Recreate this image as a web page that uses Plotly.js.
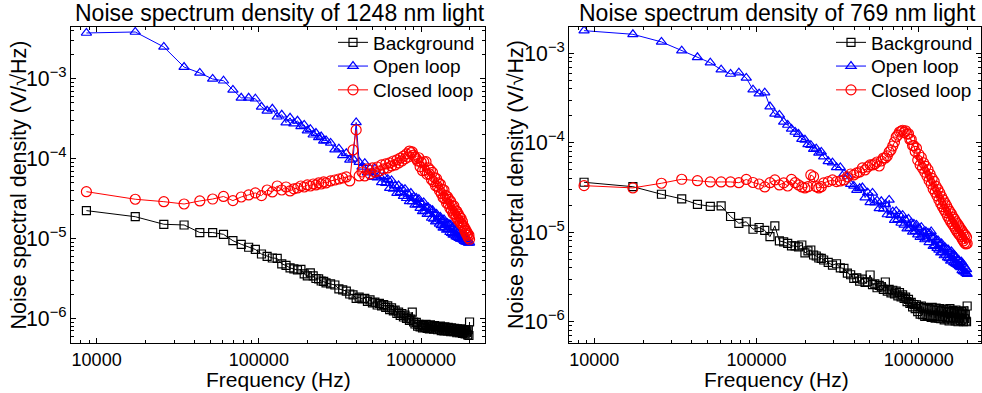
<!DOCTYPE html>
<html>
<head>
<meta charset="utf-8">
<script src="https://cdn.plot.ly/plotly-3.0.1.min.js"></script>
<style>html,body{margin:0;padding:0;background:#fff;}#chart{width:982px;height:393px;}</style>
</head>
<body>
<div id="chart"></div>
<script>
// Frequency bins (Hz)
const freq = [
 8650, 17300, 25950, 34600, 43250, 51900, 60550, 69200, 77850, 86500,
 95150, 103800, 112450, 121100, 129750, 138400, 147050, 155700, 164350, 173000,
 181650, 190300, 198950, 207600, 216250, 224900, 233550, 242200, 250850, 259500,
 276800, 294100, 311400, 328700, 346000, 363300, 380600, 397900, 415200, 432500,
 449800, 467100, 484400, 501700, 519000, 536300, 553600, 570900, 588200, 605500,
 622800, 640100, 657400, 674700, 692000, 709300, 726600, 743900, 761200, 778500,
 795800, 813100, 830400, 847700, 865000, 882300, 899600, 916900, 934200, 951500,
 968800, 986100, 1003400, 1020700, 1038000, 1055300, 1072600, 1089900, 1107200, 1124500,
 1141800, 1159100, 1176400, 1193700, 1211000, 1228300, 1245600, 1262900, 1280200, 1297500,
 1314800, 1332100, 1349400, 1366700, 1384000, 1401300, 1418600, 1435900, 1453200, 1470500,
 1487800, 1505100, 1522400, 1539700, 1557000, 1574300, 1591600, 1608900, 1626200, 1643500,
 1660800, 1678100, 1695400, 1712700, 1730000, 1747300, 1764600, 1781900, 1799200, 1816500,
 1833800, 1851100, 1868400, 1885700, 1903000, 1920300, 1937600, 1954900, 1972200, 1989500
];

// ---- 1248 nm ----
const background1248 = [
 2.24e-5, 1.88e-5, 1.51e-5, 1.48e-5, 1.19e-5, 1.19e-5, 1.13e-5, 9.4e-6, 8.48e-6, 7.78e-6,
 7.3e-6, 6.41e-6, 5.97e-6, 5.71e-6, 5.64e-6, 4.81e-6, 4.6e-6, 4.28e-6, 4.16e-6, 4.04e-6,
 4.1e-6, 3.6e-6, 3.4e-6, 3.71e-6, 3.4e-6, 3.16e-6, 3.12e-6, 2.94e-6, 2.9e-6, 2.78e-6,
 2.70e-6, 2.62e-6, 2.34e-6, 2.27e-6, 2.2e-6, 2.02e-6, 1.97e-6, 1.78e-6, 1.85e-6, 1.75e-6,
 1.78e-6, 1.63e-6, 1.7e-6, 1.56e-6, 1.6e-6, 1.47e-6, 1.54e-6, 1.43e-6, 1.49e-6, 1.37e-6,
 1.43e-6, 1.29e-6, 1.35e-6, 1.24e-6, 1.27e-6, 1.15e-6, 1.2e-6, 1.09e-6, 1.15e-6, 1.04e-6,
 1.1e-6, 1.0e-6, 1.04e-6, 9.4e-7, 9.8e-7, 1.2e-6, 9.0e-7, 8.5e-7, 8.9e-7, 8.0e-7,
 8.4e-7, 7.8e-7, 8.3e-7, 7.6e-7, 8.1e-7, 7.7e-7, 8.4e-7, 7.5e-7, 8.0e-7, 7.4e-7,
 8.3e-7, 7.6e-7, 8.0e-7, 7.3e-7, 8.1e-7, 7.6e-7, 7.9e-7, 7.2e-7, 7.8e-7, 7.4e-7,
 8.0e-7, 7.0e-7, 7.7e-7, 7.4e-7, 6.95e-7, 7.8e-7, 7.2e-7, 7.6e-7, 6.95e-7, 7.7e-7,
 7.0e-7, 7.4e-7, 6.8e-7, 7.6e-7, 6.95e-7, 7.4e-7, 6.8e-7, 7.5e-7, 6.9e-7, 7.3e-7,
 6.6e-7, 7.4e-7, 6.8e-7, 7.2e-7, 6.6e-7, 7.4e-7, 6.7e-7, 7.2e-7, 6.5e-7, 7.0e-7,
 6.6e-7, 6.95e-7, 6.4e-7, 7.2e-7, 6.6e-7, 6.9e-7, 6.2e-7, 7.2e-7, 6.1e-7, 9.0e-7
];
const openLoop1248 = [
 3.77e-3, 3.88e-3, 2.52e-3, 1.41e-3, 1.19e-3, 1.0e-3, 9.5e-4, 7.3e-4, 5.8e-4, 5.8e-4,
 5.65e-4, 4.48e-4, 3.99e-4, 4.23e-4, 3.36e-4, 3.56e-4, 2.83e-4, 3.26e-4, 2.75e-4, 2.99e-4,
 2.55e-4, 2.65e-4, 2.25e-4, 2.35e-4, 2.0e-4, 2.1e-4, 1.85e-4, 1.9e-4, 1.68e-4, 1.7e-4,
 1.58e-4, 1.3e-4, 1.34e-4, 1.1e-4, 1.17e-4, 9.7e-5, 1.0e-4, 2.85e-4, 9.1e-5, 7.9e-5,
 8.8e-5, 6.7e-5, 7.5e-5, 5.9e-5, 7.5e-5, 5.8e-5, 6.15e-5, 5.05e-5, 6.0e-5, 4.95e-5,
 5.55e-5, 4.28e-5, 5.36e-5, 4.18e-5, 4.6e-5, 3.7e-5, 4.61e-5, 3.81e-5, 4.22e-5, 3.41e-5,
 4.15e-5, 3.2e-5, 3.63e-5, 2.92e-5, 3.72e-5, 2.92e-5, 3.33e-5, 2.64e-5, 3.22e-5, 2.68e-5,
 3.11e-5, 2.41e-5, 2.79e-5, 2.19e-5, 2.84e-5, 2.23e-5, 2.45e-5, 2.02e-5, 2.45e-5, 2.02e-5,
 2.32e-5, 1.81e-5, 2.26e-5, 1.76e-5, 2.02e-5, 1.63e-5, 2.04e-5, 1.66e-5, 1.87e-5, 1.53e-5,
 1.86e-5, 1.46e-5, 1.69e-5, 1.36e-5, 1.73e-5, 1.38e-5, 1.55e-5, 1.28e-5, 1.56e-5, 1.30e-5,
 1.51e-5, 1.2e-5, 1.49e-5, 1.17e-5, 1.36e-5, 1.11e-5, 1.4e-5, 1.12e-5, 1.28e-5, 1.06e-5,
 1.28e-5, 1.04e-5, 1.22e-5, 1.01e-5, 1.17e-5, 9.9e-6, 1.14e-5, 9.8e-6, 1.08e-5, 9.6e-6,
 1.07e-5, 9.3e-6, 1.04e-5, 9.1e-6, 9.95e-6, 9.0e-6, 9.6e-6, 8.8e-6, 9.3e-6, 8.8e-6
];
const closedLoop1248 = [
 3.87e-5, 3.11e-5, 2.90e-5, 2.71e-5, 2.96e-5, 3.13e-5, 3.37e-5, 2.99e-5, 3.32e-5, 3.52e-5,
 3.73e-5, 3.45e-5, 4.06e-5, 3.84e-5, 4.56e-5, 4.06e-5, 4.43e-5, 3.95e-5, 4.19e-5, 4.3e-5,
 4.56e-5, 4.43e-5, 4.7e-5, 4.56e-5, 4.83e-5, 4.7e-5, 4.98e-5, 4.83e-5, 5.12e-5, 4.98e-5,
 5.27e-5, 5.42e-5, 5.58e-5, 5.74e-5, 5.92e-5, 5.27e-5, 1.29e-4, 2.30e-4, 6.09e-5, 6.83e-5,
 6.09e-5, 7.45e-5, 6.45e-5, 7.67e-5, 6.83e-5, 7.89e-5, 7.03e-5, 8.36e-5, 7.45e-5, 8.61e-5,
 7.67e-5, 8.86e-5, 8.13e-5, 9.38e-5, 8.36e-5, 9.66e-5, 8.86e-5, 1.02e-4, 9.38e-5, 1.08e-4,
 1.0e-4, 1.15e-4, 1.05e-4, 1.25e-4, 1.19e-4, 1.22e-4, 1.11e-4, 1.05e-4, 1.0e-4, 9.38e-5,
 1.03e-4, 7.94e-5, 9.03e-5, 7.09e-5, 9.18e-5, 7.17e-5, 9.2e-5, 6.37e-5, 7.71e-5, 6.45e-5,
 7.19e-5, 5.51e-5, 6.76e-5, 5.16e-5, 5.81e-5, 4.57e-5, 5.63e-5, 4.49e-5, 5.0e-5, 4.01e-5,
 4.79e-5, 3.67e-5, 4.13e-5, 3.26e-5, 4.06e-5, 3.16e-5, 3.47e-5, 2.78e-5, 3.34e-5, 2.72e-5,
 3.09e-5, 2.4e-5, 2.91e-5, 2.26e-5, 2.57e-5, 2.06e-5, 2.57e-5, 2.02e-5, 2.28e-5, 1.86e-5,
 2.2e-5, 1.75e-5, 2.03e-5, 1.66e-5, 1.88e-5, 1.58e-5, 1.79e-5, 1.5e-5, 1.63e-5, 1.44e-5,
 1.42e-5, 1.28e-5, 1.33e-5, 1.18e-5, 1.24e-5, 1.1e-5, 1.16e-5, 1.03e-5, 1.1e-5, 9.8e-6
];

// ---- 769 nm ----
const background769 = [
 3.62e-5, 3.23e-5, 2.66e-5, 2.36e-5, 2.05e-5, 1.95e-5, 1.97e-5, 1.5e-5, 1.26e-5, 1.31e-5,
 1.08e-5, 1.13e-5, 1.05e-5, 8.93e-6, 1.18e-5, 8.0e-6, 7.8e-6, 7.5e-6, 7.03e-6, 7.03e-6,
 6.85e-6, 7.21e-6, 5.87e-6, 6.18e-6, 6.34e-6, 5.57e-6, 5.43e-6, 5.16e-6, 5.1e-6, 4.9e-6,
 4.6e-6, 4.3e-6, 4.45e-6, 4.0e-6, 3.95e-6, 3.5e-6, 3.35e-6, 3.05e-6, 3.1e-6, 2.85e-6,
 3.0e-6, 2.75e-6, 2.8e-6, 3.33e-6, 2.6e-6, 2.65e-6, 2.4e-6, 2.55e-6, 2.45e-6, 2.3e-6,
 2.78e-6, 2.2e-6, 2.3e-6, 2.1e-6, 2.25e-6, 2.05e-6, 2.2e-6, 1.95e-6, 2.12e-6, 1.9e-6,
 2.0e-6, 1.82e-6, 1.88e-6, 1.68e-6, 1.78e-6, 1.6e-6, 1.65e-6, 1.47e-6, 1.56e-6, 1.4e-6,
 1.55e-6, 1.3e-6, 1.48e-6, 1.22e-6, 1.5e-6, 1.2e-6, 1.45e-6, 1.15e-6, 1.42e-6, 1.18e-6,
 1.4e-6, 1.15e-6, 1.38e-6, 1.12e-6, 1.45e-6, 1.18e-6, 1.35e-6, 1.1e-6, 1.42e-6, 1.15e-6,
 1.35e-6, 1.1e-6, 1.4e-6, 1.08e-6, 1.32e-6, 1.15e-6, 1.38e-6, 1.05e-6, 1.3e-6, 1.12e-6,
 1.36e-6, 1.08e-6, 1.28e-6, 1.02e-6, 1.4e-6, 1.1e-6, 1.3e-6, 1.05e-6, 1.33e-6, 1.12e-6,
 1.25e-6, 1.02e-6, 1.35e-6, 1.08e-6, 1.28e-6, 1.0e-6, 1.3e-6, 1.1e-6, 1.22e-6, 1.03e-6,
 1.3e-6, 1.05e-6, 1.25e-6, 1.0e-6, 1.32e-6, 1.08e-6, 1.2e-6, 1.02e-6, 1.0e-6, 1.5e-6
];
const openLoop769 = [
 1.79e-3, 1.63e-3, 1.34e-3, 1.07e-3, 9.02e-4, 7.85e-4, 6.56e-4, 5.87e-4, 6.07e-4, 5.3e-4,
 3.92e-4, 3.54e-4, 3.63e-4, 2.54e-4, 2.1e-4, 2.05e-4, 1.71e-4, 1.58e-4, 1.43e-4, 1.32e-4,
 1.25e-4, 1.1e-4, 1.08e-4, 9.6e-5, 9.4e-5, 8.5e-5, 8.6e-5, 7.7e-5, 7.9e-5, 7.0e-5,
 6.2e-5, 6.0e-5, 5.3e-5, 5.3e-5, 4.5e-5, 4.2e-5, 3.45e-5, 3.3e-5, 2.95e-5, 3.1e-5,
 3.16e-5, 2.44e-5, 2.77e-5, 2.16e-5, 2.75e-5, 2.14e-5, 2.25e-5, 1.85e-5, 2.22e-5, 1.82e-5,
 2.06e-5, 1.58e-5, 2.3e-5, 1.55e-5, 1.7e-5, 1.37e-5, 1.72e-5, 1.39e-5, 1.57e-5, 1.27e-5,
 1.55e-5, 1.21e-5, 1.37e-5, 1.1e-5, 1.41e-5, 1.11e-5, 1.27e-5, 1.01e-5, 1.24e-5, 1.03e-5,
 1.21e-5, 9.4e-6, 1.1e-5, 8.8e-6, 1.14e-5, 9.1e-6, 1.0e-5, 8.3e-6, 1.02e-5, 8.5e-6,
 9.8e-6, 7.7e-6, 9.7e-6, 1.02e-5, 8.7e-6, 7.0e-6, 8.8e-6, 7.15e-6, 8.1e-6, 6.65e-6,
 8.1e-6, 6.35e-6, 7.3e-6, 5.9e-6, 7.5e-6, 6.0e-6, 6.7e-6, 5.5e-6, 6.75e-6, 5.6e-6,
 6.5e-6, 5.2e-6, 6.4e-6, 5.1e-6, 5.9e-6, 4.8e-6, 6.1e-6, 4.9e-6, 5.6e-6, 4.6e-6,
 5.55e-6, 4.5e-6, 5.3e-6, 4.4e-6, 5.0e-6, 4.3e-6, 4.9e-6, 4.15e-6, 4.6e-6, 4.05e-6,
 4.7e-6, 3.75e-6, 4.45e-6, 3.65e-6, 4.2e-6, 3.6e-6, 4.0e-6, 3.5e-6, 3.85e-6, 3.4e-6
];
const closedLoop769 = [
 3.32e-5, 3.13e-5, 3.53e-5, 3.91e-5, 3.77e-5, 3.65e-5, 3.65e-5, 3.65e-5, 3.58e-5, 3.89e-5,
 3.6e-5, 3.46e-5, 3.21e-5, 3.58e-5, 3.84e-5, 3.38e-5, 3.56e-5, 3.29e-5, 3.89e-5, 3.58e-5,
 3.38e-5, 3.21e-5, 3.13e-5, 3.23e-5, 4.37e-5, 4.18e-5, 3.23e-5, 3.13e-5, 3.23e-5, 3.56e-5,
 3.68e-5, 3.84e-5, 3.68e-5, 3.74e-5, 3.84e-5, 4.15e-5, 4.48e-5, 4.37e-5, 4.6e-5, 4.72e-5,
 5.23e-5, 4.97e-5, 5.37e-5, 5.65e-5, 5.65e-5, 5.8e-5, 6.1e-5, 5.5e-5, 6.26e-5, 6.76e-5,
 6.76e-5, 7.12e-5, 7.89e-5, 8.31e-5, 9.2e-5, 1.02e-4, 1.16e-4, 1.22e-4, 1.32e-4, 1.35e-4,
 1.38e-4, 1.31e-4, 1.36e-4, 1.25e-4, 1.26e-4, 1.09e-4, 1.09e-4, 9.3e-5, 9.3e-5, 8.0e-5,
 8.7e-5, 6.4e-5, 7.4e-5, 5.65e-5, 6.85e-5, 5.2e-5, 5.95e-5, 4.7e-5, 5.45e-5, 4.25e-5,
 5.0e-5, 3.8e-5, 4.45e-5, 3.45e-5, 4.0e-5, 3.05e-5, 3.7e-5, 2.8e-5, 3.25e-5, 2.55e-5,
 3.0e-5, 2.3e-5, 2.75e-5, 2.1e-5, 2.5e-5, 1.93e-5, 2.3e-5, 1.78e-5, 2.12e-5, 1.66e-5,
 1.97e-5, 1.52e-5, 1.81e-5, 1.41e-5, 1.7e-5, 1.32e-5, 1.6e-5, 1.24e-5, 1.48e-5, 1.17e-5,
 1.4e-5, 1.1e-5, 1.31e-5, 1.03e-5, 1.25e-5, 9.8e-6, 1.18e-5, 9.4e-6, 1.12e-5, 9.0e-6,
 1.06e-5, 8.4e-6, 1.01e-5, 8.0e-6, 9.6e-6, 7.6e-6, 9.3e-6, 7.4e-6, 8.8e-6, 7.5e-6
];

const seriesNames = ['Background', 'Open loop', 'Closed loop'];
const panelTitles = ['Noise spectrum density of 1248 nm light', 'Noise spectrum density of 769 nm light'];
const xTitle = 'Frequency (Hz)';
const yTitle = 'Noise spectral density (V/\u221AHz)';

const FONT = 'Arial, "Liberation Sans", sans-serif';
const colors = ['#000000', '#0000ff', '#ff0000'];
const symbols = ['square-open', 'triangle-up-open', 'circle-open'];
const msizes = [8, 9, 10];

const panels = [
  {ys: [background1248, openLoop1248, closedLoop1248], xa: 'x', ya: 'y', lg: ['legend', 'legend2', 'legend3']},
  {ys: [background769, openLoop769, closedLoop769], xa: 'x2', ya: 'y2', lg: ['legend4', 'legend5', 'legend6']}
];

const traces = [];
panels.forEach(p => {
  p.ys.forEach((ys, i) => {
    traces.push({
      type: 'scatter', mode: 'lines+markers', x: freq, y: ys, name: seriesNames[i],
      xaxis: p.xa, yaxis: p.ya, legend: p.lg[i],
      line: {color: colors[i], width: 1},
      marker: {symbol: symbols[i], size: msizes[i], color: colors[i], line: {width: 1.2, color: colors[i]}}
    });
  });
});

const W = 982, H = 393;
const L1 = 71, R1 = 485, L2 = 569.3, R2 = 980.5, T = 26.7, B = 342.7;

function xaxis(dom, rng, anchor) {
  return {
    type: 'log', domain: dom, range: rng, anchor: anchor,
    tickmode: 'linear', tick0: 0, dtick: 1, tickformat: 'd',
    ticks: 'inside', ticklen: 5, tickwidth: 1, tickcolor: '#000',
    minor: {ticks: 'inside', ticklen: 3, tickwidth: 1, tickcolor: '#000', dtick: 'D1', showgrid: false},
    showline: true, linecolor: '#000', linewidth: 1, mirror: 'ticks',
    showgrid: false, zeroline: false, ticklabelstandoff: 1,
    tickfont: {family: FONT, size: 18, color: '#000'}
  };
}
function yaxis(dom, rng, anchor) {
  return {
    type: 'log', domain: dom, range: rng, anchor: anchor,
    tickmode: 'linear', tick0: 0, dtick: 1, exponentformat: 'power',
    ticks: 'inside', ticklen: 5, tickwidth: 1, tickcolor: '#000',
    minor: {ticks: 'inside', ticklen: 3, tickwidth: 1, tickcolor: '#000', dtick: 'D1', showgrid: false},
    showline: true, linecolor: '#000', linewidth: 1, mirror: 'ticks',
    showgrid: false, zeroline: false,
    tickfont: {family: FONT, size: 17, color: '#000'}
  };
}

const ydom = [1 - B / H, 1 - T / H];
const annotations = [];
function ann(text, xpx, ypx, size, angle) {
  annotations.push({text: text, xref: 'paper', yref: 'paper', x: xpx / W, y: 1 - ypx / H,
    xanchor: 'center', yanchor: 'middle', showarrow: false, textangle: angle || 0,
    font: {family: FONT, size: size, color: '#000'}});
}
ann(panelTitles[0], 279.7, 13, 23);
ann(panelTitles[1], 777.8, 13, 23);
ann(xTitle, 278, 379, 21);
ann(xTitle, 776, 379, 21);
ann(yTitle, 18.5, 185, 21.5, -90);
ann(yTitle, 516, 185, 21.5, -90);

function legendCfg(xpx, topPx) {
  return {x: xpx / W, y: 1 - topPx / H, xanchor: 'left', yanchor: 'top',
    bgcolor: 'rgba(0,0,0,0)', borderwidth: 0,
    font: {family: FONT, size: 19, color: '#000'}};
}
const rowTops = [23.5, 47.2, 71];

const layout = {
  width: W, height: H, margin: {l: 0, r: 0, t: 0, b: 0},
  paper_bgcolor: '#fff', plot_bgcolor: '#fff',
  font: {family: FONT, color: '#000'},
  showlegend: true,
  xaxis: xaxis([L1 / W, R1 / W], [3.842, 6.394], 'y'),
  yaxis: yaxis(ydom, [-6.305, -2.345], 'x'),
  xaxis2: xaxis([L2 / W, R2 / W], [3.846, 6.381], 'y2'),
  yaxis2: yaxis(ydom, [-6.234, -2.703], 'x2'),
  legend: legendCfg(333, rowTops[0]),
  legend2: legendCfg(333, rowTops[1]),
  legend3: legendCfg(333, rowTops[2]),
  legend4: legendCfg(831, rowTops[0]),
  legend5: legendCfg(831, rowTops[1]),
  legend6: legendCfg(831, rowTops[2]),
  annotations: annotations
};

Plotly.newPlot('chart', traces, layout, {displayModeBar: false, staticPlot: true});
</script>
</body>
</html>
